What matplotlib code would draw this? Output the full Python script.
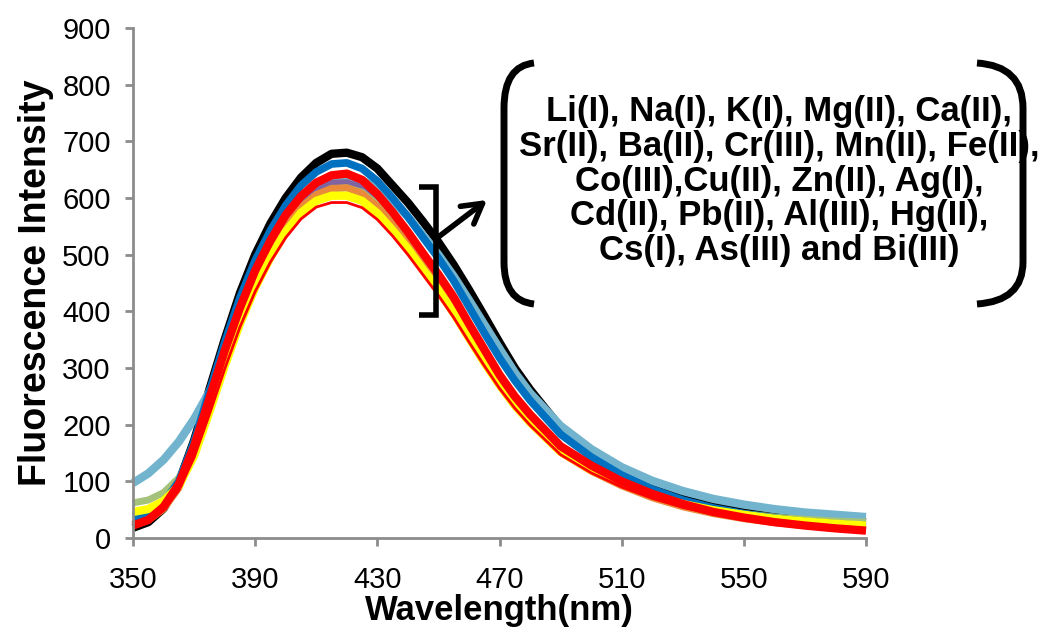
import matplotlib
matplotlib.use("Agg")
import matplotlib.pyplot as plt
import numpy as np
from matplotlib.path import Path
from matplotlib.patches import PathPatch, FancyArrowPatch

plt.rcParams['font.family'] = ['Liberation Sans', 'DejaVu Sans']

# wavelength grid (nm)
wavelength = [350, 355, 360, 365, 370, 375, 380, 385, 390, 395, 400, 405, 410,
              415, 420, 425, 430, 435, 440, 445, 450, 455, 460, 465, 470, 475,
              480, 490, 500, 510, 520, 530, 540, 550, 560, 570, 580, 590]

black = [18, 28, 52, 98, 172, 262, 350, 432, 500, 555, 600, 636, 662,
         678, 680, 672, 652, 622, 592, 558, 522, 482, 438, 392, 345, 300,
         262, 195, 150, 118, 92, 72, 58, 48, 40, 35, 31, 28]
light_blue = [97, 114, 138, 170, 210, 258, 316, 384, 448, 502, 547, 585, 611,
              627, 634, 631, 618, 596, 567, 534, 500, 462, 420, 377, 334, 292,
              256, 198, 157, 125, 101, 83, 69, 59, 51, 45, 41, 37]
purple = [25, 34, 55, 92, 158, 242, 324, 398, 462, 515, 560, 594, 615,
          626, 627, 618, 595, 565, 532, 495, 458, 418, 372, 328, 285, 248,
          216, 160, 126, 99, 77, 60, 47, 37, 30, 25, 21, 18]
green = [62, 67, 80, 106, 155, 230, 310, 385, 448, 500, 545, 580, 603,
         616, 618, 610, 588, 558, 524, 487, 450, 410, 366, 322, 280, 243,
         212, 158, 125, 99, 79, 63, 52, 43, 37, 33, 30, 28]
orange = [22, 31, 51, 88, 152, 235, 316, 390, 452, 505, 550, 584, 606,
          617, 618, 608, 585, 553, 518, 480, 442, 402, 357, 313, 272, 236,
          205, 151, 118, 92, 71, 55, 43, 34, 27, 22, 18, 15]
blue = [37, 44, 62, 100, 170, 258, 345, 424, 490, 543, 587, 622, 646,
        660, 662, 652, 630, 600, 567, 530, 494, 454, 408, 362, 318, 278,
        243, 183, 143, 111, 86, 67, 53, 43, 35, 29, 25, 22]
yellow = [46, 51, 65, 92, 145, 222, 303, 378, 442, 495, 540, 574, 595,
          604, 604, 595, 573, 543, 510, 473, 437, 397, 353, 310, 270, 234,
          204, 152, 120, 96, 76, 60, 49, 41, 34, 29, 25, 22]
red_thin = [20, 29, 49, 84, 142, 218, 298, 372, 435, 487, 530, 563, 584,
            592, 592, 583, 562, 533, 500, 464, 428, 389, 346, 304, 264, 229,
            199, 147, 115, 90, 70, 54, 42, 33, 26, 21, 17, 14]
red = [22, 32, 55, 95, 162, 246, 330, 406, 472, 525, 570, 603, 627,
       640, 643, 632, 607, 575, 540, 502, 465, 425, 378, 333, 288, 250,
       218, 162, 128, 100, 78, 60, 46, 36, 28, 22, 17, 13]

series = [
    (black, '#000000', 6.0),
    (light_blue, '#72B4CD', 6.0),
    (purple, '#8064A2', 5.0),
    (green, '#A4C27A', 5.0),
    (orange, '#E98B3A', 5.0),
    (blue, '#0070C0', 5.5),
    (yellow, '#FFFF00', 6.0),
    (red_thin, '#FF0000', 2.0),
    (red, '#FF0000', 6.0),
]

W, H = 1039, 629
fig = plt.figure(figsize=(W / 100, H / 100), dpi=100)
ax = fig.add_axes([133 / W, 1 - 538 / H, (866 - 133) / W, (538 - 28) / H])

for vals, col, lw in series:
    ax.plot(wavelength, vals, color=col, lw=lw, solid_capstyle='butt',
            solid_joinstyle='round', clip_on=False)

ax.set_xlim(350, 590)
ax.set_ylim(0, 900)
ax.set_xticks(range(350, 591, 40))
ax.set_yticks(range(0, 901, 100))
for s in ['top', 'right']:
    ax.spines[s].set_visible(False)
for s in ['left', 'bottom']:
    ax.spines[s].set_color('#8C8C8C')
    ax.spines[s].set_linewidth(2)
ax.tick_params(direction='out', length=6, width=2, color='#8C8C8C',
               labelsize=21, pad=10)
ax.tick_params(axis='x', pad=14)

ax.set_xlabel('Wavelength(nm)', fontsize=25, fontweight='bold',
              family=['Liberation Sans Narrow', 'Liberation Sans'], labelpad=0)
ax.set_ylabel('Fluorescence Intensity', fontsize=27, fontweight='bold', labelpad=6)


def px(x, y):
    return (x / W, 1 - y / H)


def draw_path(pts, codes, lw):
    p = Path([px(*q) for q in pts], codes)
    fig.add_artist(PathPatch(p, fill=False, lw=lw, color='black',
                             transform=fig.transFigure, capstyle='butt'))


# square bracket
draw_path([(419, 187), (436, 187), (436, 315), (419, 315)],
          [Path.MOVETO, Path.LINETO, Path.LINETO, Path.LINETO], 4)

# arrow
fig.add_artist(FancyArrowPatch(px(437, 238), px(487, 200), transform=fig.transFigure,
                               arrowstyle='->,head_length=0.7,head_width=0.4',
                               lw=4, color='black', mutation_scale=20,
                               shrinkA=0, shrinkB=0))

# round brackets
C = [Path.MOVETO, Path.CURVE3, Path.CURVE3, Path.LINETO, Path.CURVE3, Path.CURVE3]
draw_path([(534, 63), (504, 66), (504, 108), (504, 262), (504, 301), (534, 304)], C, 5)
draw_path([(977, 63), (1023, 66), (1023, 108), (1023, 262), (1023, 301), (977, 304)], C, 5)

label = ('Li(I), Na(I), K(I), Mg(II), Ca(II),\n'
         'Sr(II), Ba(II), Cr(III), Mn(II), Fe(II),\n'
         'Co(III),Cu(II), Zn(II), Ag(I),\n'
         'Cd(II), Pb(II), Al(III), Hg(II),\n'
         'Cs(I), As(III) and Bi(III)')
fig.text(*px(779, 181), label, ha='center', va='center', multialignment='center',
         fontsize=25, fontweight='bold', linespacing=1.06)

fig.savefig('out.png', dpi=100)
